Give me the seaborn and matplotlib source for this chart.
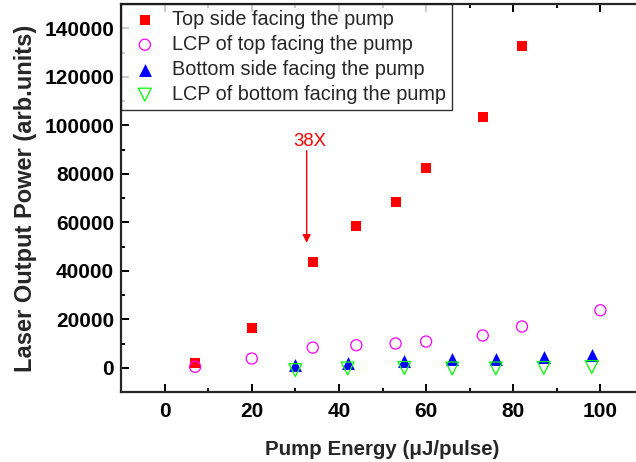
import matplotlib
matplotlib.use("Agg")
import matplotlib.pyplot as plt
import seaborn as sns

# ---- data ----
top_x = [7, 20, 34, 44, 53, 60, 73, 82]
top_y = [2000, 16300, 43700, 58500, 68200, 82500, 103200, 132500]

lcp_top_x = [7, 20, 34, 44, 53, 60, 73, 82, 100]
lcp_top_y = [400, 3800, 8300, 9300, 10000, 10800, 13300, 17000, 23700]

bottom_x = [30, 42, 55, 66, 76, 87, 98]
bottom_y = [1000, 1900, 2700, 3500, 3500, 4300, 5200]

lcp_bottom_x = [30, 42, 55, 66, 76, 87, 98]
lcp_bottom_y = [-1000, -300, -100, -300, -300, -100, 300]

labels = ["Top side facing the pump", "LCP of top facing the pump",
          "Bottom side facing the pump", "LCP of bottom facing the pump"]

x_ticks = [0, 20, 40, 60, 80, 100]
y_ticks = [0, 20000, 40000, 60000, 80000, 100000, 120000, 140000]

sns.set_style("ticks")
plt.rcParams['font.family'] = ['Liberation Sans', 'DejaVu Sans']

fig = plt.figure(figsize=(6.36, 4.62), dpi=100)
W, H = 636, 462
ax = fig.add_axes([121 / W, 70 / H, 523 / W, 388 / H])

sns.scatterplot(x=top_x, y=top_y, ax=ax, marker='s', s=52, color='#ff0000',
                edgecolor='#ff0000', linewidth=0, label=labels[0], zorder=3)
sns.scatterplot(x=lcp_top_x, y=lcp_top_y, ax=ax, marker='o', s=64,
                facecolors='none', edgecolor='#ff00ff', linewidth=0.9,
                label=labels[1], zorder=3)
sns.scatterplot(x=bottom_x, y=bottom_y, ax=ax, marker='^', s=86, color='#0000ff',
                edgecolor='#0000ff', linewidth=0, label=labels[2], zorder=3)
sns.scatterplot(x=lcp_bottom_x, y=lcp_bottom_y, ax=ax, marker='v', s=86,
                facecolors='none', edgecolor='#00ff00', linewidth=0.9,
                label=labels[3], zorder=4)

ax.set_xlim(-10, 110)
ax.set_ylim(-10000, 150000)
ax.set_xticks(x_ticks)
ax.set_yticks(y_ticks)
ax.set_xticks(range(-10, 111, 10), minor=True)
ax.set_yticks(range(-10000, 150001, 10000), minor=True)

for sp in ax.spines.values():
    sp.set_linewidth(1.6)
    sp.set_visible(True)
ax.spines['right'].set_visible(False)

ax.tick_params(which='both', direction='in', top=True, right=False, width=1.4,
               labelsize=15, colors='black')
ax.tick_params(which='major', length=6)
ax.tick_params(which='minor', length=3)
ax.tick_params(axis='x', pad=7)
ax.tick_params(axis='y', pad=5)
for lab in ax.get_xticklabels() + ax.get_yticklabels():
    lab.set_fontweight('bold')

ax.set_xlabel("Pump Energy (μJ/pulse)", fontsize=14.8, fontweight='bold', labelpad=14)
ax.set_ylabel("Laser Output Power (arb.units)", fontsize=17, fontweight='bold', labelpad=5)

# annotation
ax.annotate('', xy=(32.6, 51500), xytext=(32.6, 89500),
            arrowprops=dict(arrowstyle='-|>', color='#ff0000', lw=1.0,
                            mutation_scale=12, shrinkA=0, shrinkB=0))
ax.text(33.3, 93500, "38X", color='#ff0000', fontsize=13.3, ha='center', va='center')

leg = ax.legend(loc='upper left', bbox_to_anchor=(0, 1), borderaxespad=0,
                fancybox=False, frameon=True, fontsize=14.3, handletextpad=0.45,
                handlelength=1.8, labelspacing=0.3, borderpad=0.3)
leg.get_frame().set_edgecolor('black')
leg.get_frame().set_linewidth(1.0)

fig.savefig("out.png", dpi=100)
